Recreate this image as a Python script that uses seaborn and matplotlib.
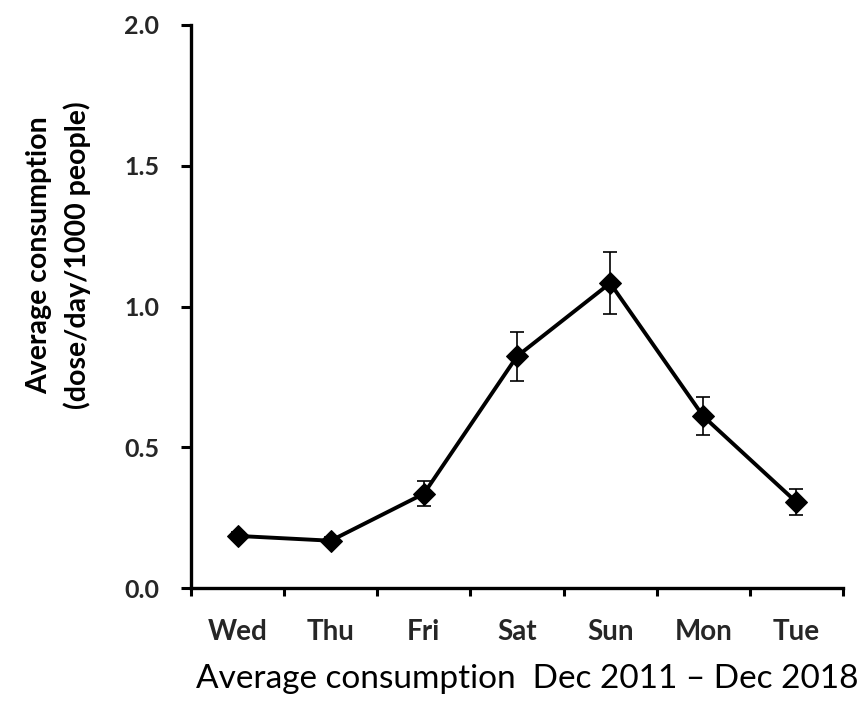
import matplotlib
matplotlib.use("Agg")
import matplotlib.pyplot as plt
import seaborn as sns
import pandas as pd

days = ["Wed", "Thu", "Fri", "Sat", "Sun", "Mon", "Tue"]
mean_use = [0.185, 0.168, 0.335, 0.823, 1.083, 0.610, 0.305]
err_use = [0.015, 0.012, 0.044, 0.087, 0.110, 0.068, 0.046]
y_ticks = [0.0, 0.5, 1.0, 1.5, 2.0]
y_tick_labels = ["0.0", "0.5", "1.0", "1.5", "2.0"]

sns.set_theme(style="white")
plt.rcParams["font.family"] = ["Lato", "DejaVu Sans"]

df = pd.DataFrame({"pos": range(len(days)), "day": days, "mean": mean_use, "err": err_use})

fig = plt.figure(figsize=(8.63, 7.06), dpi=100)
ax = fig.add_axes([191 / 863, 1 - 588 / 706, 652 / 863, 563 / 706])

ax.errorbar(df["pos"], df["mean"], yerr=df["err"], fmt="none", ecolor="black",
            elinewidth=1.2, capsize=5, capthick=1.2, zorder=2)
sns.lineplot(data=df, x="pos", y="mean", ax=ax, color="black", linewidth=2.8,
             marker="D", markersize=11, markeredgecolor="black",
             markerfacecolor="black", zorder=3)

ax.set_xlim(-0.5, len(days) - 0.5)
ax.set_ylim(0, 2.0)

# category boundaries carry the tick marks, centres carry the labels
ax.set_xticks([i - 0.5 for i in range(len(days) + 1)])
ax.set_xticklabels([])
ax.set_xticks(range(len(days)), minor=True)
ax.set_xticklabels(days, minor=True, fontsize=20, fontweight="bold")
ax.tick_params(axis="x", which="major", direction="out", length=6, width=2.2,
               color="black", bottom=True)
ax.tick_params(axis="x", which="minor", length=0, pad=22, bottom=True)

ax.set_yticks(y_ticks)
ax.set_yticklabels(y_tick_labels, fontsize=18, fontweight="bold")
ax.tick_params(axis="y", direction="out", length=7, width=2.2, color="black",
               pad=16, left=True)

for side in ["top", "right"]:
    ax.spines[side].set_visible(False)
for side in ["left", "bottom"]:
    ax.spines[side].set_color("black")
    ax.spines[side].set_linewidth(2.4)

ax.set_xlabel("")
ax.set_ylabel("")

fig.text(58.5 / 863, 1 - 255 / 706, "Average consumption\n(dose/day/1000 people)",
         rotation=90, ha="center", va="center", fontsize=20.5, fontweight="bold",
         linespacing=1.5, color="black")
fig.text(527 / 863, 1 - 688 / 706, "Average consumption  Dec 2011 \u2013 Dec 2018",
         ha="center", va="baseline", fontsize=24, color="black")

fig.savefig("out.png", dpi=100)
